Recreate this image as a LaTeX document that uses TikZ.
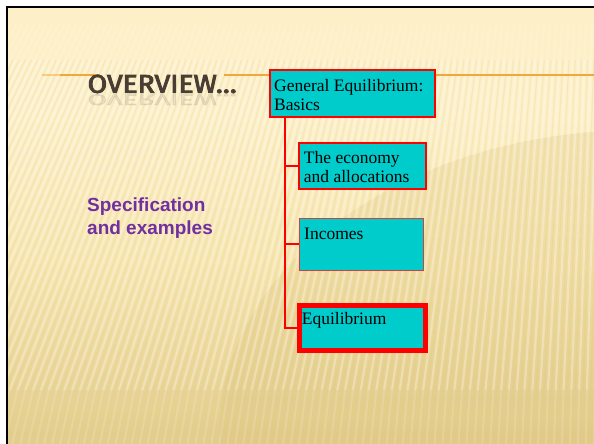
\documentclass[tikz,border=0pt]{standalone}
\usepackage{fontspec}
\setmainfont{Liberation Serif}
\newfontfamily\sansb{Liberation Sans}
\newfontfamily\titlef{Fira Sans}[FakeBold=3.5]
\usepackage{graphicx}
\definecolor{cream}{HTML}{FDF0C8}
\definecolor{midb}{HTML}{F7E6B0}
\definecolor{tanb}{HTML}{E3CD8C}
\definecolor{darkt}{HTML}{DCC27A}
\definecolor{boxcyan}{HTML}{00CCCC}
\definecolor{purp}{HTML}{7030A0}
\definecolor{titlebrown}{HTML}{4A3D33}
\definecolor{orangeline}{HTML}{F2A73A}
\definecolor{incred}{HTML}{D04040}
\begin{document}
\begin{tikzpicture}[x=1pt,y=-1pt,
  boxsz/.style 2 args={minimum width=#1, minimum height=#2, inner sep=0pt},
  cbox/.style={fill=boxcyan, draw=red},
  boxtext/.style={anchor=north west, inner sep=0pt, align=left, text=black,
    font=\fontsize{17.5}{19.5}\selectfont},
  trunkline/.style={draw=red, line width=1.8pt},
  stub/.style={draw=red, line width=1.4pt},
  stripe/.style={white, line width=2.2pt},
  stripedark/.style={darkt, line width=1.2pt}]
\useasboundingbox (0,0) rectangle (594,444);
\fill[white] (0,0) rectangle (594,444);
\begin{scope}
\clip (7,7) rectangle (594,444);
\fill[cream] (7,7) rectangle (594,110);
\shade[top color=cream, bottom color=midb] (7,110) rectangle (594,260);
\shade[top color=midb, bottom color=tanb] (7,259.5) rectangle (594,444);
\fill[darkt, opacity=0.25] (640,430) ellipse (420 and 300);
\fill[tanb, opacity=0.2] (7,390) rectangle (594,444);
\foreach \k in {0,...,110} {
  \pgfmathsetmacro{\xa}{-20+6*\k}
  \pgfmathsetmacro{\xb}{635+(\xa-635)*1.3}
  \pgfmathsetmacro{\xc}{635+(\xa-635)*1.328}
  \pgfmathsetmacro{\xm}{635+(\xa-635)*1.03}
  \draw[stripe, opacity=0.12] (\xa,25) -- (\xm,60);
  \draw[stripe, opacity=0.3] (\xm,60) -- (\xb,390);
  \draw[stripe, opacity=0.14] (\xb,390) -- (\xc,444);
  \pgfmathsetmacro{\xd}{\xa+3}
  \pgfmathsetmacro{\xe}{635+(\xd-635)*1.3}
  \pgfmathsetmacro{\xn}{635+(\xd-635)*1.03}
  \draw[stripedark, opacity=0.16] (\xn,60) -- (\xe,390);
}
\end{scope}
\draw[black, line width=2pt] (7,444) -- (7,7) -- (594,7);
% orange rule
\coordinate (ol0) at (42,75);
\coordinate (ol1) at (60,75);
\coordinate (ol2) at (100,75);
\coordinate (ol3) at (224,75);
\coordinate (ol4) at (594,75);
\draw[orangeline, line width=1.3pt, opacity=0.5] (ol0) -- (ol1);
\draw[orangeline, line width=1.3pt] (ol1) -- (ol2);
\draw[orangeline, line width=1.3pt] (ol3) -- (ol4);
% title
\node[anchor=north west, inner sep=0pt, text=titlebrown, opacity=0.1] (titlerefl) at (87.5,94)
  {\scalebox{1}[-0.6]{\resizebox{149pt}{18pt}{\titlef OVERVIEW…}}};
\node[anchor=south west, inner sep=0pt, text=titlebrown] (title) at (87.5,93.3)
  {\resizebox{149pt}{18pt}{\titlef OVERVIEW…}};
% left text
\node[anchor=north west, inner sep=0pt, align=left, text=purp,
  font=\sansb\bfseries\fontsize{19}{23}\selectfont] (spec) at (87,197.5)
  {Specification\\and examples};
% boxes
\node[cbox, line width=2pt, boxsz={165pt}{47pt}] (ge) at (352.5,93.5) {};
\node[cbox, line width=1.5pt, boxsz={127pt}{46pt}] (eco) at (362.5,166) {};
\node[cbox, draw=incred, line width=1pt, boxsz={124pt}{52pt}] (inc) at (361,244) {};
\node[cbox, line width=5pt, boxsz={126.3pt}{45.5pt}] (eq) at (362.3,327.8) {};
\node[boxtext] (get) at ([shift={(5,10)}]ge.north west) {General Equilibrium:\\Basics};
\node[boxtext] (ecot) at ([shift={(5.5,8.5)}]eco.north west) {The economy\\and allocations};
\node[boxtext] (inct) at ([shift={(5.5,10)}]inc.north west) {Incomes};
\node[boxtext] (eqt) at ([shift={(5,10)}]eq.north west) {Equilibrium};
% connectors
\coordinate (trunk) at ([xshift=16pt]ge.south west);
\draw[trunkline] (trunk) |- (eq.west);
\draw[stub] (trunk |- eco.west) -- (eco.west);
\draw[stub] (trunk |- inc.west) -- (inc.west);
\end{tikzpicture}
\end{document}
